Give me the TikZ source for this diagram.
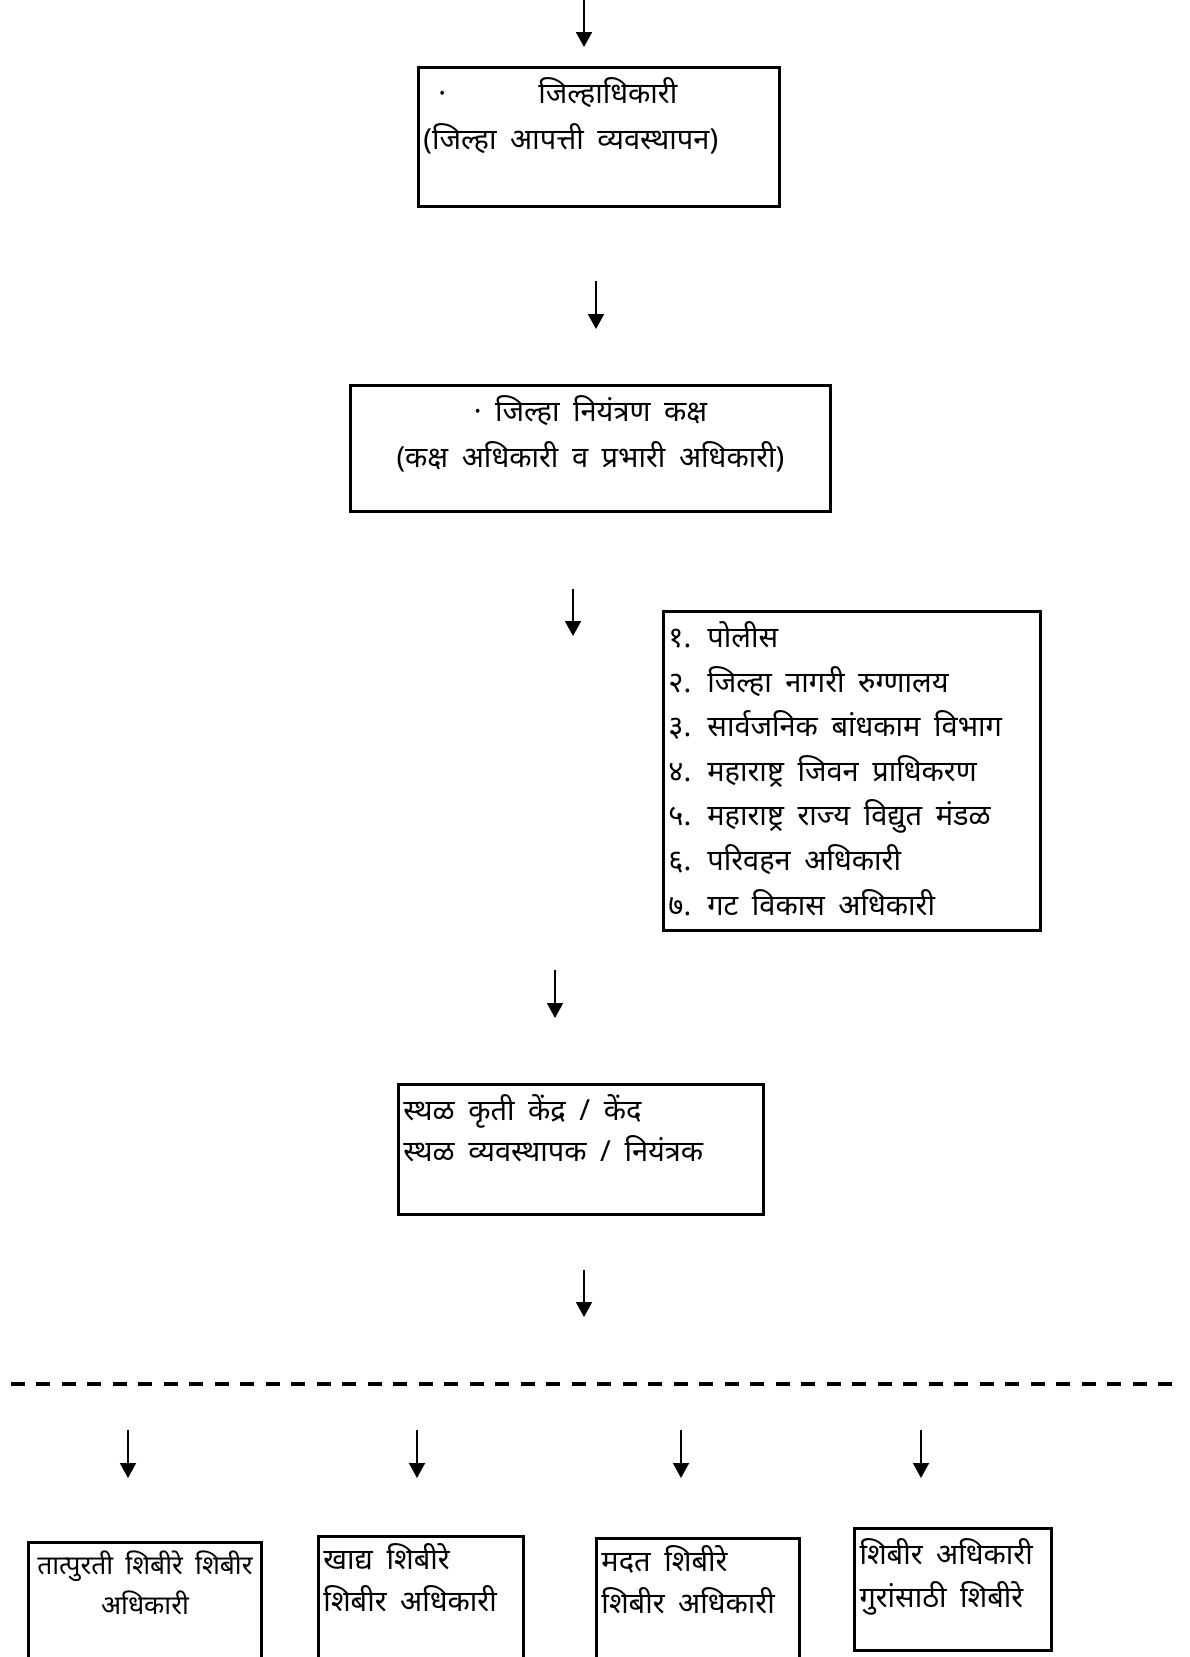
\documentclass[tikz,border=0pt]{standalone}
\usepackage{fontspec}
\newfontfamily\devfont[Script=Devanagari, WordSpace=1.8]{Noto Sans}
\usetikzlibrary{arrows.meta}

\begin{document}
\begin{tikzpicture}[x=0.02cm, y=-0.02cm,
        cadre/.style={draw, line width=1.7pt, anchor=north west,
                      inner xsep=0.1cm, inner ysep=0.2cm,
                      font=\devfont\fontsize{16.5}{26}\selectfont},
        fleche/.style={-{Triangle[width=0.32cm, length=0.3cm]}, line width=1.1pt},
      ]
        \useasboundingbox (0,0) rectangle (1190,1657);

        \node[cadre] (jilhadhikari) at (417,66)
          {\parbox[t][2.38cm][t]{7.02cm}{\makebox[2.3cm][l]{\hspace*{0.3cm}·}जिल्हाधिकारी\\(जिल्हा आपत्ती व्यवस्थापन)}};

        \node[cadre] (niyantran) at (349,384)
          {\parbox[t][2.12cm][t]{9.4cm}{\centering · जिल्हा नियंत्रण कक्ष\\(कक्ष अधिकारी व प्रभारी अधिकारी)}};

        \node[cadre] (vibhag) at (662,610)
          {\parbox[t][5.98cm][t]{7.34cm}{\baselineskip=25.4pt
            १. पोलीस\\
            २. जिल्हा नागरी रुग्णालय\\
            ३. सार्वजनिक बांधकाम विभाग\\
            ४. महाराष्ट्र जिवन प्राधिकरण\\
            ५. महाराष्ट्र राज्य विद्युत मंडळ\\
            ६. परिवहन अधिकारी\\
            ७. गट विकास अधिकारी}};

        \node[cadre] (sthal) at (397,1083)
          {\parbox[t][2.2cm][t]{7.1cm}{\baselineskip=23.5pt
            स्थळ कृती केंद्र / केंद\\स्थळ व्यवस्थापक / नियंत्रक}};

        \node[cadre, inner ysep=0.17cm] (tatpurti) at (27,1541)
          {\parbox[t][2.32cm][t]{4.46cm}{\centering\fontsize{15}{22.8}\selectfont
            तात्पुरती शिबीरे शिबीर\\अधिकारी}};
        \node[cadre, inner ysep=0.15cm] (khadya) at (317,1535)
          {\parbox[t][2.44cm][t]{3.9cm}{\baselineskip=23.4pt
            खाद्य शिबीरे\\शिबीर अधिकारी}};
        \node[cadre, inner ysep=0.15cm] (madat) at (595,1537)
          {\parbox[t][2.4cm][t]{3.86cm}{\baselineskip=23.4pt
            मदत शिबीरे\\शिबीर अधिकारी}};
        \node[cadre] (gura) at (853,1527)
          {\parbox[t][2.04cm][t]{3.74cm}{\baselineskip=24.5pt
            शिबीर अधिकारी\\गुरांसाठी शिबीरे}};

        \coordinate (v0) at (584,0);     \coordinate (v0b) at (584,47);
        \coordinate (v1) at (596,281);   \coordinate (v1b) at (596,329);
        \coordinate (v2) at (573,589);   \coordinate (v2b) at (573,636);
        \coordinate (v3) at (555,970);   \coordinate (v3b) at (555,1018);
        \coordinate (v4) at (584,1270);  \coordinate (v4b) at (584,1317);
        \foreach \i in {0,...,4}
          \draw[fleche] (v\i) -- (v\i b);

        \coordinate (trait g) at (11,1384);
        \coordinate (trait d) at (1178,1384);
        \draw[line width=1.8pt, dash pattern=on 0.28cm off 0.23cm] (trait g) -- (trait d);

        \foreach \x [count=\i] in {128,417,681,921} {
          \coordinate (s\i) at (\x,1430);
          \coordinate (s\i b) at (\x,1478);
          \draw[fleche] (s\i) -- (s\i b);
        }
      \end{tikzpicture}
\end{document}
